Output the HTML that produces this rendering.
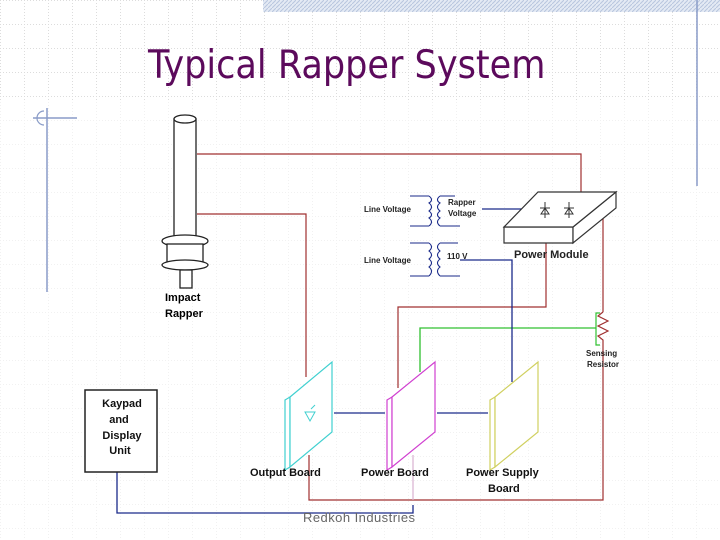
<!DOCTYPE html>
<html><head><meta charset="utf-8"><style>
html,body{margin:0;padding:0;background:#fff;}
svg{display:block;}
</style></head><body>
<svg width="720" height="540" viewBox="0 0 720 540" xmlns="http://www.w3.org/2000/svg" font-family="Liberation Sans, sans-serif">
<defs>
<pattern id="g" width="24" height="24" patternUnits="userSpaceOnUse">
<path d="M0 0.5H24M0.5 0V24" stroke="#dcdcdc" stroke-width="1" stroke-dasharray="1,2" fill="none"/>
</pattern>
<pattern id="h" width="4" height="4" patternUnits="userSpaceOnUse">
<rect width="4" height="4" fill="#e4eaf4"/><path d="M0 4L4 0" stroke="#b8c6de" stroke-width="1"/>
</pattern>
</defs>
<rect width="720" height="540" fill="url(#g)"/>
<rect x="263" y="0" width="457" height="12" fill="url(#h)"/>
<rect x="0" y="100" width="720" height="440" fill="#fff" opacity="0.6"/>
<line x1="697" y1="0" x2="697" y2="186" stroke="#8a9cc8" stroke-width="1.5"/>
<line x1="33" y1="118" x2="77" y2="118" stroke="#8a9cc8" stroke-width="1.5"/>
<line x1="47" y1="108" x2="47" y2="292" stroke="#8a9cc8" stroke-width="1.5"/>
<path d="M44 111 A7 7 0 0 0 44 125" stroke="#8a9cc8" fill="none" stroke-width="1.2"/>
<text x="148" y="78" font-size="39" fill="#5c0a5c" font-family="DejaVu Sans Condensed, Liberation Sans Narrow, Liberation Sans, sans-serif">Typical Rapper System</text>

<!-- rapper -->
<g stroke="#222" stroke-width="1.3" fill="#fff">
<rect x="174" y="119" width="22" height="125"/>
<ellipse cx="185" cy="119" rx="11" ry="4"/>
<ellipse cx="185" cy="241" rx="23" ry="6"/>
<rect x="167" y="244" width="36" height="19"/>
<ellipse cx="185" cy="265" rx="23" ry="5"/>
<rect x="180" y="270" width="12" height="18"/>
</g>
<text font-size="11" font-weight="bold" fill="#000"><tspan x="165" y="301">Impact</tspan><tspan x="165" y="317">Rapper</tspan></text>

<!-- red wires -->
<g stroke="#a03030" stroke-width="1.2" fill="none">
<polyline points="197,154 581,154 581,196"/>
<polyline points="197,214 306,214 306,377"/>
<polyline points="546,243 546,307 398,307 398,388"/>
<polyline points="603,208 603,312"/>
<polyline points="603,312 598,316 608,321 598,326 608,331 598,336 603,340 603,500 309,500 309,455"/>
</g>
<line x1="413" y1="455" x2="413" y2="500" stroke="#d8b0d0" stroke-width="1.2"/>
<polyline points="596,328 420,328 420,372" stroke="#30c030" stroke-width="1.3" fill="none"/>
<polyline points="600,313 596,313 596,345 600,345" stroke="#30c030" stroke-width="1.2" fill="none"/>
<g stroke="#1a2a8a" stroke-width="1.3" fill="none">
<polyline points="460,260 512,260 512,382"/>
<line x1="482" y1="209" x2="523" y2="209"/>
<line x1="334" y1="413" x2="385" y2="413"/>
<line x1="437" y1="413" x2="488" y2="413"/>
<polyline points="117,472 117,513 413,513 413,505"/>
</g>
<g stroke="#1a2a8a" stroke-width="1.1" fill="none">
<path d="M410 196 H429 M410 226 H429 M429 196 q5 4 0 7 q5 4 0 8 q5 4 0 7 q5 4 0 8"/>
<path d="M455 196 H440 M440 226 H460 M440 196 q-5 4 0 7 q-5 4 0 8 q-5 4 0 7 q-5 4 0 8"/>
<path d="M410 243 H429 M410 276 H429 M429 243 q5 4 0 8 q5 4 0 8 q5 4 0 8 q5 4 0 9"/>
<path d="M458 243 H440 M440 276 H460 M440 243 q-5 4 0 8 q-5 4 0 8 q-5 4 0 8 q-5 4 0 9"/>
</g>
<g font-size="8" font-weight="bold" fill="#222">
<text x="364" y="212">Line Voltage</text>
<text x="448" y="205">Rapper</text>
<text x="448" y="216">Voltage</text>
<text x="364" y="263">Line Voltage</text>
<text x="447" y="259">110 V</text>
<text x="586" y="356">Sensing</text>
<text x="587" y="367">Resistor</text>
</g>
<g stroke="#333" stroke-width="1.2" fill="#fff">
<polygon points="504,227 573,227 573,243 504,243"/>
<polygon points="573,227 616,192 616,208 573,243"/>
<polygon points="504,227 538,192 616,192 573,227"/>
</g>
<g stroke="#333" stroke-width="1" fill="none">
<path d="M545 202 V218 M540 208 H550 M541 214 L545 208 L549 214 Z"/>
<path d="M569 202 V218 M564 208 H574 M565 214 L569 208 L573 214 Z"/>
</g>
<text x="514" y="258" font-size="11" font-weight="bold" fill="#222">Power Module</text>

<g stroke-width="1.2" fill="#fff">
<polygon points="285,400 290,397 290,467 285,470" stroke="#40d0d0"/>
<polygon points="290,397 332,362 332,432 290,467" stroke="#40d0d0"/>
<polygon points="387,400 392,397 392,467 387,470" stroke="#d040d0"/>
<polygon points="392,397 435,362 435,432 392,467" stroke="#d040d0"/>
<polygon points="490,400 495,397 495,467 490,470" stroke="#d0d060"/>
<polygon points="495,397 538,362 538,432 495,467" stroke="#d0d060"/>
</g>
<path d="M305 412 L315 412 L310 421 Z M311 409 L315 405" stroke="#40d0d0" fill="none" stroke-width="1"/>
<g font-size="11" font-weight="bold" fill="#111">
<text x="250" y="476">Output Board</text>
<text x="361" y="476">Power Board</text>
<text x="466" y="476">Power Supply</text>
<text x="488" y="492">Board</text>
</g>
<rect x="85" y="390" width="72" height="82" fill="#fff" stroke="#222" stroke-width="1.5"/>
<g font-size="11" font-weight="bold" fill="#111" text-anchor="middle">
<text x="122" y="407">Kaypad</text>
<text x="119" y="423">and</text>
<text x="122" y="439">Display</text>
<text x="120" y="454">Unit</text>
</g>
<text x="303" y="522" font-size="13" fill="#666" textLength="112">Redkoh Industries</text>
</svg>
</body></html>
